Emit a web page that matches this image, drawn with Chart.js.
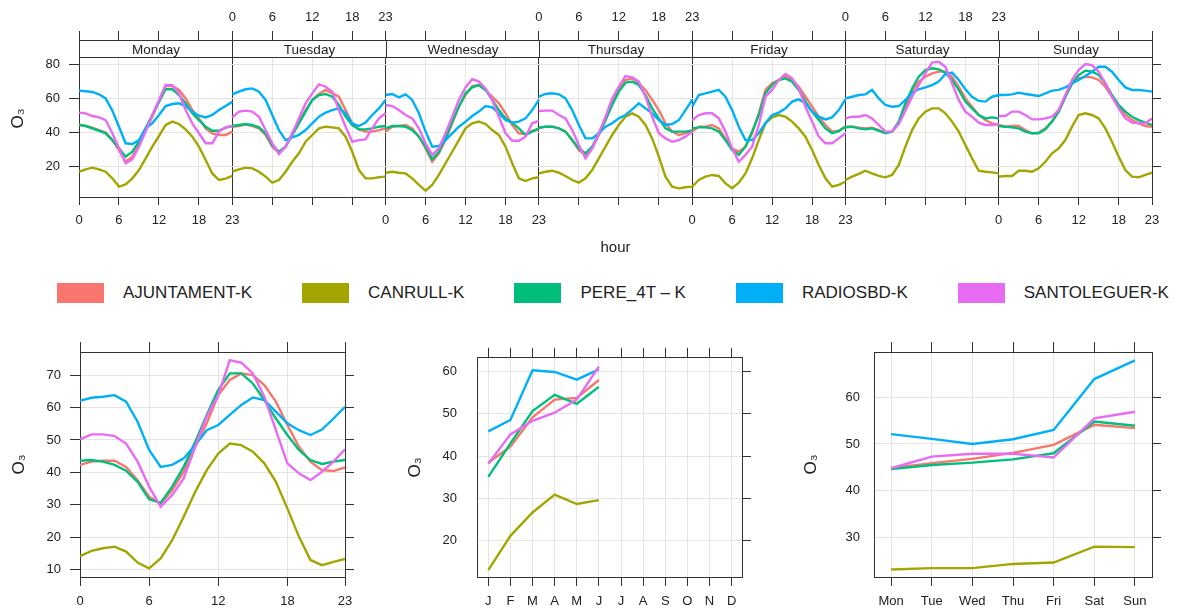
<!DOCTYPE html>
<html lang="en">
<head>
<meta charset="UTF-8" />
<title>O3 time variation</title>
<script src="https://cdn.jsdelivr.net/npm/chart.js"></script>
<style>
  body { margin: 0; background: #fff; font-family: "Liberation Sans", Arial, sans-serif; }
  #wrap { position: relative; width: 1179px; height: 614px; overflow: hidden; }
  canvas { position: absolute; }
  #legend { position: absolute; left: 57px; top: 283px; display: flex; align-items: center; gap: 50px; font-size: 17px; color: #222; white-space: nowrap; }
  .item { display: flex; align-items: center; }
  .sw { width: 47px; height: 20px; margin-right: 19px; }
</style>
</head>
<body>
<div id="wrap">
  <canvas id="weekHour" style="left:0;top:0;width:1179px;height:260px" width="1179" height="260"></canvas>
  <div id="legend"></div>
  <canvas id="hourChart" style="left:0;top:330px;width:380px;height:284px" width="380" height="284"></canvas>
  <canvas id="monthChart" style="left:400px;top:330px;width:380px;height:284px" width="380" height="284"></canvas>
  <canvas id="weekdayChart" style="left:790px;top:330px;width:389px;height:284px" width="389" height="284"></canvas>
</div>

<script>
  // sites and colours
  const sites = ['AJUNTAMENT-K', 'CANRULL-K', 'PERE_4T \u2013 K', 'RADIOSBD-K', 'SANTOLEGUER-K'];
  const colors = ['#F8766D', '#A3A500', '#00BF7D', '#00B0F6', '#E76BF3'];

  const dayNames = ['Monday', 'Tuesday', 'Wednesday', 'Thursday', 'Friday', 'Saturday', 'Sunday'];
  const monthLabels = ['J', 'F', 'M', 'A', 'M', 'J', 'J', 'A', 'S', 'O', 'N', 'D'];
  const weekdayLabels = ['Mon', 'Tue', 'Wed', 'Thu', 'Fri', 'Sat', 'Sun'];

  // day x hour means, one row of 24 hours per day (Mon..Sun)
  const ajuntamentDayHour = [
    [44.5, 43.9, 42.9, 41.5, 40.0, 35.6, 29.7, 22.8, 25.8, 32.7, 41.5, 49.4, 58.3, 67.5, 67.5, 65.2, 60.2, 53.3, 48.4, 42.5, 39.6, 38.6, 38.6, 40.6],
    [43.5, 43.9, 44.7, 43.9, 42.5, 38.6, 31.7, 28.1, 31.7, 39.6, 46.5, 53.3, 59.3, 62.8, 65.2, 63.2, 61.2, 53.3, 45.5, 41.9, 40.6, 40.6, 41.5, 42.5],
    [40.6, 43.5, 43.9, 44.5, 42.5, 37.6, 30.7, 22.8, 27.8, 35.6, 45.5, 55.3, 62.2, 67.5, 68.1, 65.2, 61.2, 57.3, 51.4, 44.5, 39.6, 39.2, 41.1, 41.9],
    [42.5, 43.5, 43.5, 42.5, 40.6, 35.6, 29.7, 26.8, 30.7, 38.6, 47.4, 57.3, 65.2, 71.1, 72.0, 69.1, 65.2, 59.3, 53.3, 45.5, 40.6, 38.6, 39.6, 41.5],
    [40.6, 43.5, 43.5, 44.5, 42.5, 36.6, 30.7, 28.7, 31.7, 39.6, 51.4, 65.2, 69.1, 71.1, 73.0, 71.1, 67.1, 61.2, 55.3, 49.4, 44.5, 40.6, 41.1, 43.5],
    [43.5, 43.5, 42.9, 42.5, 42.9, 41.5, 40.0, 40.6, 45.5, 55.3, 64.2, 70.1, 73.0, 75.0, 76.0, 76.0, 73.0, 67.1, 60.2, 55.3, 50.4, 47.4, 45.5, 44.5],
    [44.5, 43.5, 43.9, 43.9, 41.5, 39.6, 40.0, 42.5, 46.5, 52.4, 61.2, 69.1, 72.0, 73.0, 72.6, 71.1, 67.1, 61.2, 55.3, 50.4, 47.4, 45.5, 43.9, 43.5]
  ];
  const canrullDayHour = [
    [16.9, 18.3, 19.3, 18.3, 16.9, 13.0, 8.1, 9.4, 13.0, 17.9, 24.8, 31.7, 38.0, 44.5, 46.5, 45.1, 41.9, 37.6, 31.7, 23.8, 15.9, 12.0, 12.8, 14.4],
    [16.9, 18.3, 19.3, 18.9, 16.9, 14.0, 10.4, 12.0, 16.9, 22.8, 27.8, 34.6, 38.6, 42.5, 43.5, 43.1, 42.5, 37.6, 28.7, 17.9, 13.0, 13.0, 13.6, 14.0],
    [16.3, 16.9, 16.3, 15.9, 13.0, 9.1, 5.7, 9.1, 15.0, 21.9, 28.7, 35.6, 42.5, 45.5, 46.5, 45.1, 41.5, 38.6, 31.7, 21.9, 13.0, 11.4, 13.0, 13.6],
    [15.9, 16.9, 17.5, 16.3, 14.4, 12.0, 10.4, 13.0, 17.9, 24.8, 31.7, 38.6, 44.5, 49.4, 51.4, 49.4, 44.5, 36.6, 25.8, 14.0, 8.1, 7.1, 7.7, 8.1],
    [8.1, 12.0, 14.0, 15.0, 14.4, 10.0, 7.1, 10.4, 15.9, 24.8, 35.6, 45.5, 49.0, 50.4, 49.4, 46.5, 42.5, 37.6, 29.7, 20.9, 13.0, 8.1, 9.1, 11.0],
    [12.0, 14.0, 15.6, 17.5, 15.9, 14.4, 13.6, 15.0, 20.9, 31.7, 41.5, 48.4, 52.4, 54.3, 54.3, 51.4, 46.5, 40.6, 32.7, 24.8, 17.5, 16.9, 16.5, 15.9],
    [14.0, 14.4, 14.4, 17.5, 17.5, 16.9, 18.9, 22.8, 27.8, 30.7, 35.6, 43.5, 50.4, 51.4, 50.4, 48.4, 42.5, 34.6, 25.8, 17.9, 14.0, 13.6, 15.0, 16.3]
  ];
  const pereDayHour = [
    [44.7, 43.9, 42.5, 41.1, 39.6, 35.6, 30.7, 25.8, 28.7, 34.6, 42.5, 50.4, 58.3, 65.6, 65.6, 62.2, 57.3, 51.4, 47.4, 43.5, 41.1, 41.1, 42.9, 43.9],
    [43.9, 44.5, 45.1, 44.5, 43.1, 39.6, 32.7, 28.7, 31.7, 38.6, 45.5, 52.4, 59.3, 62.2, 62.8, 61.2, 56.3, 49.4, 44.5, 41.9, 41.9, 42.5, 43.5, 43.9],
    [42.5, 43.9, 43.9, 43.5, 41.5, 37.6, 31.7, 24.2, 28.7, 36.6, 46.5, 55.3, 63.2, 66.7, 68.1, 65.2, 59.3, 53.3, 48.4, 45.9, 42.5, 38.6, 40.6, 42.5],
    [43.1, 43.5, 43.5, 42.5, 40.6, 35.6, 30.7, 27.8, 31.7, 39.6, 47.4, 56.3, 64.2, 69.5, 70.1, 68.1, 62.2, 54.3, 48.4, 42.5, 40.6, 40.6, 40.6, 41.1],
    [42.5, 43.1, 43.1, 42.5, 40.6, 35.6, 29.7, 26.8, 31.7, 40.6, 50.4, 63.2, 68.1, 71.1, 72.0, 70.1, 65.2, 58.3, 52.4, 47.4, 42.5, 39.6, 40.9, 43.5],
    [43.1, 43.5, 42.5, 41.9, 42.5, 41.1, 39.6, 40.6, 46.5, 57.3, 66.1, 73.0, 76.9, 78.0, 77.4, 75.4, 71.1, 65.2, 58.3, 54.3, 50.4, 48.4, 49.0, 48.4],
    [43.9, 43.5, 43.1, 42.5, 40.6, 39.6, 39.6, 41.9, 46.5, 52.4, 61.2, 69.1, 74.0, 76.6, 76.0, 74.0, 69.1, 62.2, 56.3, 52.4, 49.4, 47.4, 45.9, 44.5]
  ];
  const radiosbdDayHour = [
    [64.8, 64.4, 64.0, 62.6, 60.2, 53.0, 43.5, 33.7, 33.3, 35.6, 42.5, 45.5, 50.4, 55.7, 56.9, 57.3, 55.7, 52.4, 50.0, 49.0, 50.4, 53.3, 55.7, 58.3],
    [62.6, 64.2, 65.6, 66.1, 64.2, 59.3, 50.4, 41.5, 35.6, 37.2, 38.6, 41.5, 45.5, 49.4, 51.8, 53.3, 54.3, 51.4, 45.5, 43.9, 45.9, 50.4, 54.3, 59.3],
    [62.2, 62.8, 60.8, 62.6, 59.3, 51.4, 40.6, 31.7, 32.1, 35.6, 39.6, 43.5, 46.5, 49.8, 52.4, 55.7, 54.9, 51.4, 47.4, 45.9, 46.5, 48.4, 53.3, 59.3],
    [61.2, 62.8, 63.2, 62.6, 60.2, 53.3, 44.5, 36.6, 36.6, 39.6, 43.5, 45.5, 48.4, 50.4, 53.7, 57.3, 54.3, 51.4, 47.4, 44.5, 45.1, 47.4, 53.3, 59.3],
    [55.3, 62.2, 63.2, 64.2, 65.2, 61.2, 53.3, 43.5, 35.6, 35.6, 39.6, 45.5, 50.4, 51.8, 54.3, 58.3, 59.6, 57.3, 52.4, 49.4, 47.8, 49.0, 53.3, 59.6],
    [60.2, 61.2, 62.2, 62.6, 65.2, 60.2, 56.3, 55.3, 55.7, 59.3, 63.6, 65.6, 66.7, 68.1, 70.1, 74.6, 75.4, 71.1, 65.6, 61.2, 58.7, 58.3, 61.2, 62.2],
    [62.2, 62.2, 62.6, 63.6, 62.8, 62.2, 61.6, 63.2, 64.8, 65.2, 66.7, 69.1, 71.1, 73.4, 76.0, 78.9, 78.9, 76.0, 71.1, 66.7, 65.2, 65.2, 64.8, 64.2]
  ];
  const santoleguerDayHour = [
    [51.8, 51.4, 49.8, 49.0, 47.4, 39.6, 30.7, 21.9, 24.2, 31.7, 40.6, 50.4, 59.3, 68.1, 68.0, 63.2, 53.3, 45.5, 39.6, 33.7, 33.7, 40.6, 43.1, 43.9],
    [49.0, 52.4, 53.0, 52.4, 49.4, 41.5, 33.7, 27.4, 31.7, 39.6, 48.4, 57.3, 63.2, 68.5, 67.1, 64.2, 53.3, 43.5, 34.6, 35.6, 36.0, 42.5, 48.4, 51.4],
    [56.3, 55.7, 53.3, 50.4, 48.4, 42.5, 33.7, 26.8, 30.7, 39.6, 49.4, 59.3, 66.7, 71.5, 70.1, 66.1, 59.3, 49.4, 39.6, 35.2, 35.2, 37.6, 45.5, 47.0],
    [52.8, 53.0, 53.0, 50.4, 48.4, 41.5, 32.7, 24.8, 30.7, 39.6, 49.4, 60.2, 67.1, 73.4, 72.6, 70.1, 61.2, 49.4, 39.6, 36.6, 34.6, 35.6, 37.6, 40.6],
    [47.4, 50.4, 51.4, 51.4, 48.4, 40.6, 30.7, 22.8, 26.8, 31.7, 44.5, 61.2, 65.2, 71.1, 74.6, 72.0, 66.1, 55.3, 46.5, 37.6, 33.7, 33.7, 36.6, 39.6],
    [48.4, 49.4, 49.4, 50.4, 48.4, 44.5, 40.6, 40.6, 45.0, 53.0, 61.2, 68.1, 75.0, 81.3, 81.9, 78.9, 69.1, 59.3, 52.4, 49.4, 45.9, 44.5, 44.5, 45.1],
    [49.8, 49.8, 52.4, 52.4, 50.4, 47.8, 47.8, 48.4, 49.4, 53.3, 62.2, 71.1, 76.9, 80.5, 79.9, 76.0, 69.1, 61.2, 54.3, 48.4, 45.9, 45.5, 45.5, 48.4]
  ];

  // hour of day means
  const ajuntamentHour = [42.3, 43.3, 43.6, 43.6, 41.7, 37.6, 32.5, 30.4, 34.5, 40.2, 47.9, 55.1, 63.8, 68.5, 70.5, 70.0, 66.9, 61.8, 54.6, 47.9, 43.3, 40.7, 40.4, 41.5];
  const canrullHour = [14.2, 15.8, 16.6, 17.1, 15.6, 12.2, 10.4, 13.5, 19.1, 26.3, 34.0, 40.7, 45.8, 48.9, 48.4, 46.4, 42.8, 37.1, 28.9, 20.2, 13.0, 11.4, 12.4, 13.3];
  const pereHour = [43.6, 43.8, 43.3, 42.3, 40.5, 37.1, 31.7, 30.6, 35.6, 41.7, 49.4, 57.7, 65.4, 70.5, 70.5, 67.4, 62.3, 56.6, 51.5, 46.9, 43.8, 42.6, 43.3, 43.8];
  const radiosbdHour = [62.1, 63.0, 63.3, 63.8, 61.8, 55.6, 46.9, 41.7, 42.3, 44.3, 48.4, 53.0, 54.6, 57.7, 60.8, 63.1, 62.3, 58.7, 55.1, 53.0, 51.5, 53.2, 56.6, 60.2];
  const santoleguerHour = [50.2, 51.7, 51.7, 51.2, 48.9, 43.3, 35.6, 29.4, 33.0, 38.1, 47.9, 57.2, 63.8, 74.6, 73.8, 70.5, 63.3, 53.0, 42.8, 39.7, 37.6, 40.2, 43.3, 47.1];

  // monthly means (Jan..Jun only)
  const ajuntamentMonth = [38.4, 42.2, 49.1, 53.3, 53.7, 57.9];
  const canrullMonth = [13.1, 21.2, 26.7, 30.9, 28.7, 29.6];
  const pereMonth = [35.1, 43.0, 50.6, 54.4, 52.3, 56.3];
  const radiosbdMonth = [45.8, 48.5, 60.2, 59.8, 58.0, 60.4];
  const santoleguerMonth = [38.2, 45.1, 48.3, 50.2, 53.3, 61.1];

  // weekday means
  const ajuntamentWeekday = [44.8, 45.9, 46.8, 48.1, 49.8, 54.1, 53.4];
  const canrullWeekday = [23.1, 23.4, 23.4, 24.3, 24.6, 28.0, 27.9];
  const pereWeekday = [44.6, 45.5, 46.0, 46.7, 48.0, 54.8, 53.9];
  const radiosbdWeekday = [52.1, 51.1, 50.0, 51.0, 53.0, 63.9, 67.9];
  const santoleguerWeekday = [44.8, 47.3, 47.9, 47.9, 47.1, 55.5, 56.9];

  const dayHourSeries = [ajuntamentDayHour, canrullDayHour, pereDayHour, radiosbdDayHour, santoleguerDayHour];
  const hourSeries = [ajuntamentHour, canrullHour, pereHour, radiosbdHour, santoleguerHour];
  const monthSeries = [ajuntamentMonth, canrullMonth, pereMonth, radiosbdMonth, santoleguerMonth];
  const weekdaySeries = [ajuntamentWeekday, canrullWeekday, pereWeekday, radiosbdWeekday, santoleguerWeekday];

  Chart.defaults.font.family = '"Liberation Sans", Arial, sans-serif';
  Chart.defaults.color = '#222';

  const axisCol = '#333';
  const gridCol = '#e4e4e4';
  const tickFont = { size: 13 };
  const titleFont = { size: 17 };

  const ticksAt = vals => s => { s.ticks = vals.map(v => ({ value: v })); };

  // legend
  const legendEl = document.getElementById('legend');
  sites.forEach((name, i) => {
    const item = document.createElement('div');
    item.className = 'item';
    const sw = document.createElement('div');
    sw.className = 'sw';
    sw.style.background = colors[i];
    const txt = document.createElement('span');
    txt.textContent = name;
    item.appendChild(sw);
    item.appendChild(txt);
    legendEl.appendChild(item);
  });

  const lineStyle = i => ({
    label: sites[i],
    borderColor: colors[i],
    backgroundColor: colors[i],
    borderWidth: 2.4,
    pointRadius: 0,
    tension: 0,
    fill: false,
    order: sites.length - 1 - i
  });

  const baseOptions = {
    responsive: false,
    animation: false,
    events: [],
    layout: { padding: 0, autoPadding: false },
    plugins: { legend: { display: false }, tooltip: { enabled: false } }
  };

  // ---- top panel: day x hour ----
  const span = 23;
  const weekTicks = [];
  for (let d = 0; d < 7; d++) [0, 6, 12, 18].forEach(h => weekTicks.push(d * span + h));
  weekTicks.push(7 * span);

  const hourLabel = (v, labelledDays) => {
    for (const d of labelledDays) {
      const h = v - d * span;
      if (h >= 0 && h <= 23) return String(h);
    }
    return '';
  };

  const stripH = 17;
  const stripPlugin = {
    id: 'strips',
    afterDatasetsDraw(chart) {
      const { ctx, chartArea, scales: { x } } = chart;
      ctx.save();
      ctx.font = '13.5px "Liberation Sans", Arial, sans-serif';
      ctx.textAlign = 'center';
      ctx.textBaseline = 'middle';
      ctx.lineWidth = 1;
      dayNames.forEach((name, d) => {
        const x0 = Math.round(x.getPixelForValue(d * span)) + 0.5;
        const x1 = Math.round(x.getPixelForValue((d + 1) * span)) + 0.5;
        const y0 = Math.round(chartArea.top) + 0.5;
        ctx.fillStyle = '#fff';
        ctx.fillRect(x0, y0, x1 - x0, stripH);
        ctx.strokeStyle = axisCol;
        ctx.strokeRect(x0, y0, x1 - x0, stripH);
        ctx.fillStyle = '#222';
        ctx.fillText(name, (x0 + x1) / 2, y0 + stripH / 2 + 1);
      });
      ctx.restore();
    }
  };

  const weekDatasets = dayHourSeries.map((rows, i) => {
    const pts = [];
    rows.forEach((row, d) => {
      row.forEach((v, h) => pts.push({ x: d * span + h, y: v }));
      pts.push({ x: d * span + 23, y: null });
    });
    return Object.assign(lineStyle(i), { data: pts });
  });

  new Chart(document.getElementById('weekHour'), {
    type: 'line',
    data: { datasets: weekDatasets },
    options: Object.assign({}, baseOptions, {
      scales: {
        x: {
          type: 'linear', position: 'bottom', min: 0, max: 7 * span,
          afterBuildTicks: ticksAt(weekTicks),
          afterFit: s => { s.height = 63; },
          ticks: { autoSkip: false, maxRotation: 0, padding: 8, font: tickFont, callback: v => hourLabel(v, [0, 2, 4, 6]) },
          grid: { color: c => (c.tick && c.tick.value % span === 0) ? axisCol : gridCol, tickColor: axisCol, tickLength: 8 },
          border: { color: axisCol },
          title: { display: true, text: 'hour', font: { size: 15 }, padding: { top: 0, bottom: 3 } }
        },
        x2: {
          type: 'linear', position: 'top', min: 0, max: 7 * span,
          afterBuildTicks: ticksAt(weekTicks),
          afterFit: s => { s.height = 40; },
          ticks: { autoSkip: false, maxRotation: 0, padding: 6, font: tickFont, callback: v => hourLabel(v, [1, 3, 5]) },
          grid: { drawOnChartArea: false, tickColor: axisCol, tickLength: 9 },
          border: { color: axisCol }
        },
        y: {
          type: 'linear', position: 'left', min: 1.97, max: 94.7,
          afterBuildTicks: ticksAt([20, 40, 60, 80]),
          afterFit: s => { s.width = 79; },
          ticks: { padding: 9, font: tickFont },
          grid: { color: gridCol, tickColor: axisCol, tickLength: 10 },
          border: { color: axisCol },
          title: { display: true, text: 'O\u2083', font: titleFont, padding: { top: 8, bottom: 0 } }
        },
        y2: {
          type: 'linear', position: 'right', min: 1.97, max: 94.7,
          afterBuildTicks: ticksAt([20, 40, 60, 80]),
          afterFit: s => { s.width = 27; },
          ticks: { display: false },
          grid: { drawOnChartArea: false, tickColor: axisCol, tickLength: 9 },
          border: { color: axisCol }
        }
      }
    }),
    plugins: [stripPlugin]
  });

  // ---- bottom panels ----
  function panel(id, p) {
    const datasets = p.series.map((vals, i) =>
      Object.assign(lineStyle(i), { data: vals.map((v, k) => ({ x: k, y: v })) }));
    return new Chart(document.getElementById(id), {
      type: 'line',
      data: { datasets },
      options: Object.assign({}, baseOptions, {
        scales: {
          x: {
            type: 'linear', position: 'bottom', min: p.xMin, max: p.xMax,
            afterBuildTicks: ticksAt(p.xTicks),
            afterFit: s => { s.height = 37; },
            ticks: { autoSkip: false, maxRotation: 0, padding: 8, font: tickFont, callback: p.xLabel },
            grid: { color: gridCol, tickColor: axisCol, tickLength: 9 },
            border: { color: axisCol }
          },
          x2: {
            type: 'linear', position: 'top', min: p.xMin, max: p.xMax,
            afterBuildTicks: ticksAt(p.xTicks),
            afterFit: s => { s.height = 22; },
            ticks: { display: false },
            grid: { drawOnChartArea: false, tickColor: axisCol, tickLength: 10 },
            border: { color: axisCol }
          },
          y: {
            type: 'linear', position: 'left', min: p.yMin, max: p.yMax,
            afterBuildTicks: ticksAt(p.yTicks),
            afterFit: s => { s.width = p.leftW; },
            ticks: { padding: p.yPad, font: tickFont },
            grid: { color: gridCol, tickColor: axisCol, tickLength: 10, drawTicks: p.leftTicks },
            border: { color: axisCol },
            title: { display: true, text: 'O\u2083', font: titleFont, padding: { top: p.titlePad, bottom: 0 } }
          },
          y2: {
            type: 'linear', position: 'right', min: p.yMin, max: p.yMax,
            afterBuildTicks: ticksAt(p.yTicks),
            afterFit: s => { s.width = p.rightW; },
            ticks: { display: false },
            grid: { drawOnChartArea: false, tickColor: axisCol, tickLength: 9 },
            border: { color: axisCol }
          }
        }
      })
    });
  }

  panel('hourChart', {
    series: hourSeries,
    xMin: 0, xMax: 23, xTicks: [0, 6, 12, 18, 23], xLabel: v => String(v),
    yMin: 7.75, yMax: 77.1, yTicks: [10, 20, 30, 40, 50, 60, 70],
    leftW: 80, rightW: 35, yPad: 9, leftTicks: true, titlePad: 9
  });

  panel('monthChart', {
    series: monthSeries,
    xMin: -0.51, xMax: 11.47, xTicks: monthLabels.map((m, i) => i), xLabel: v => monthLabels[v],
    yMin: 11.5, yMax: 63.14, yTicks: [20, 30, 40, 50, 60],
    leftW: 77, rightW: 38, yPad: 20, leftTicks: false, titlePad: 5
  });

  panel('weekdayChart', {
    series: weekdaySeries,
    xMin: -0.42, xMax: 6.42, xTicks: weekdayLabels.map((d, i) => i), xLabel: v => weekdayLabels[v],
    yMin: 21.5, yMax: 69.7, yTicks: [30, 40, 50, 60],
    leftW: 84, rightW: 27, yPad: 14, leftTicks: false, titlePad: 11
  });
</script>
</body>
</html>
